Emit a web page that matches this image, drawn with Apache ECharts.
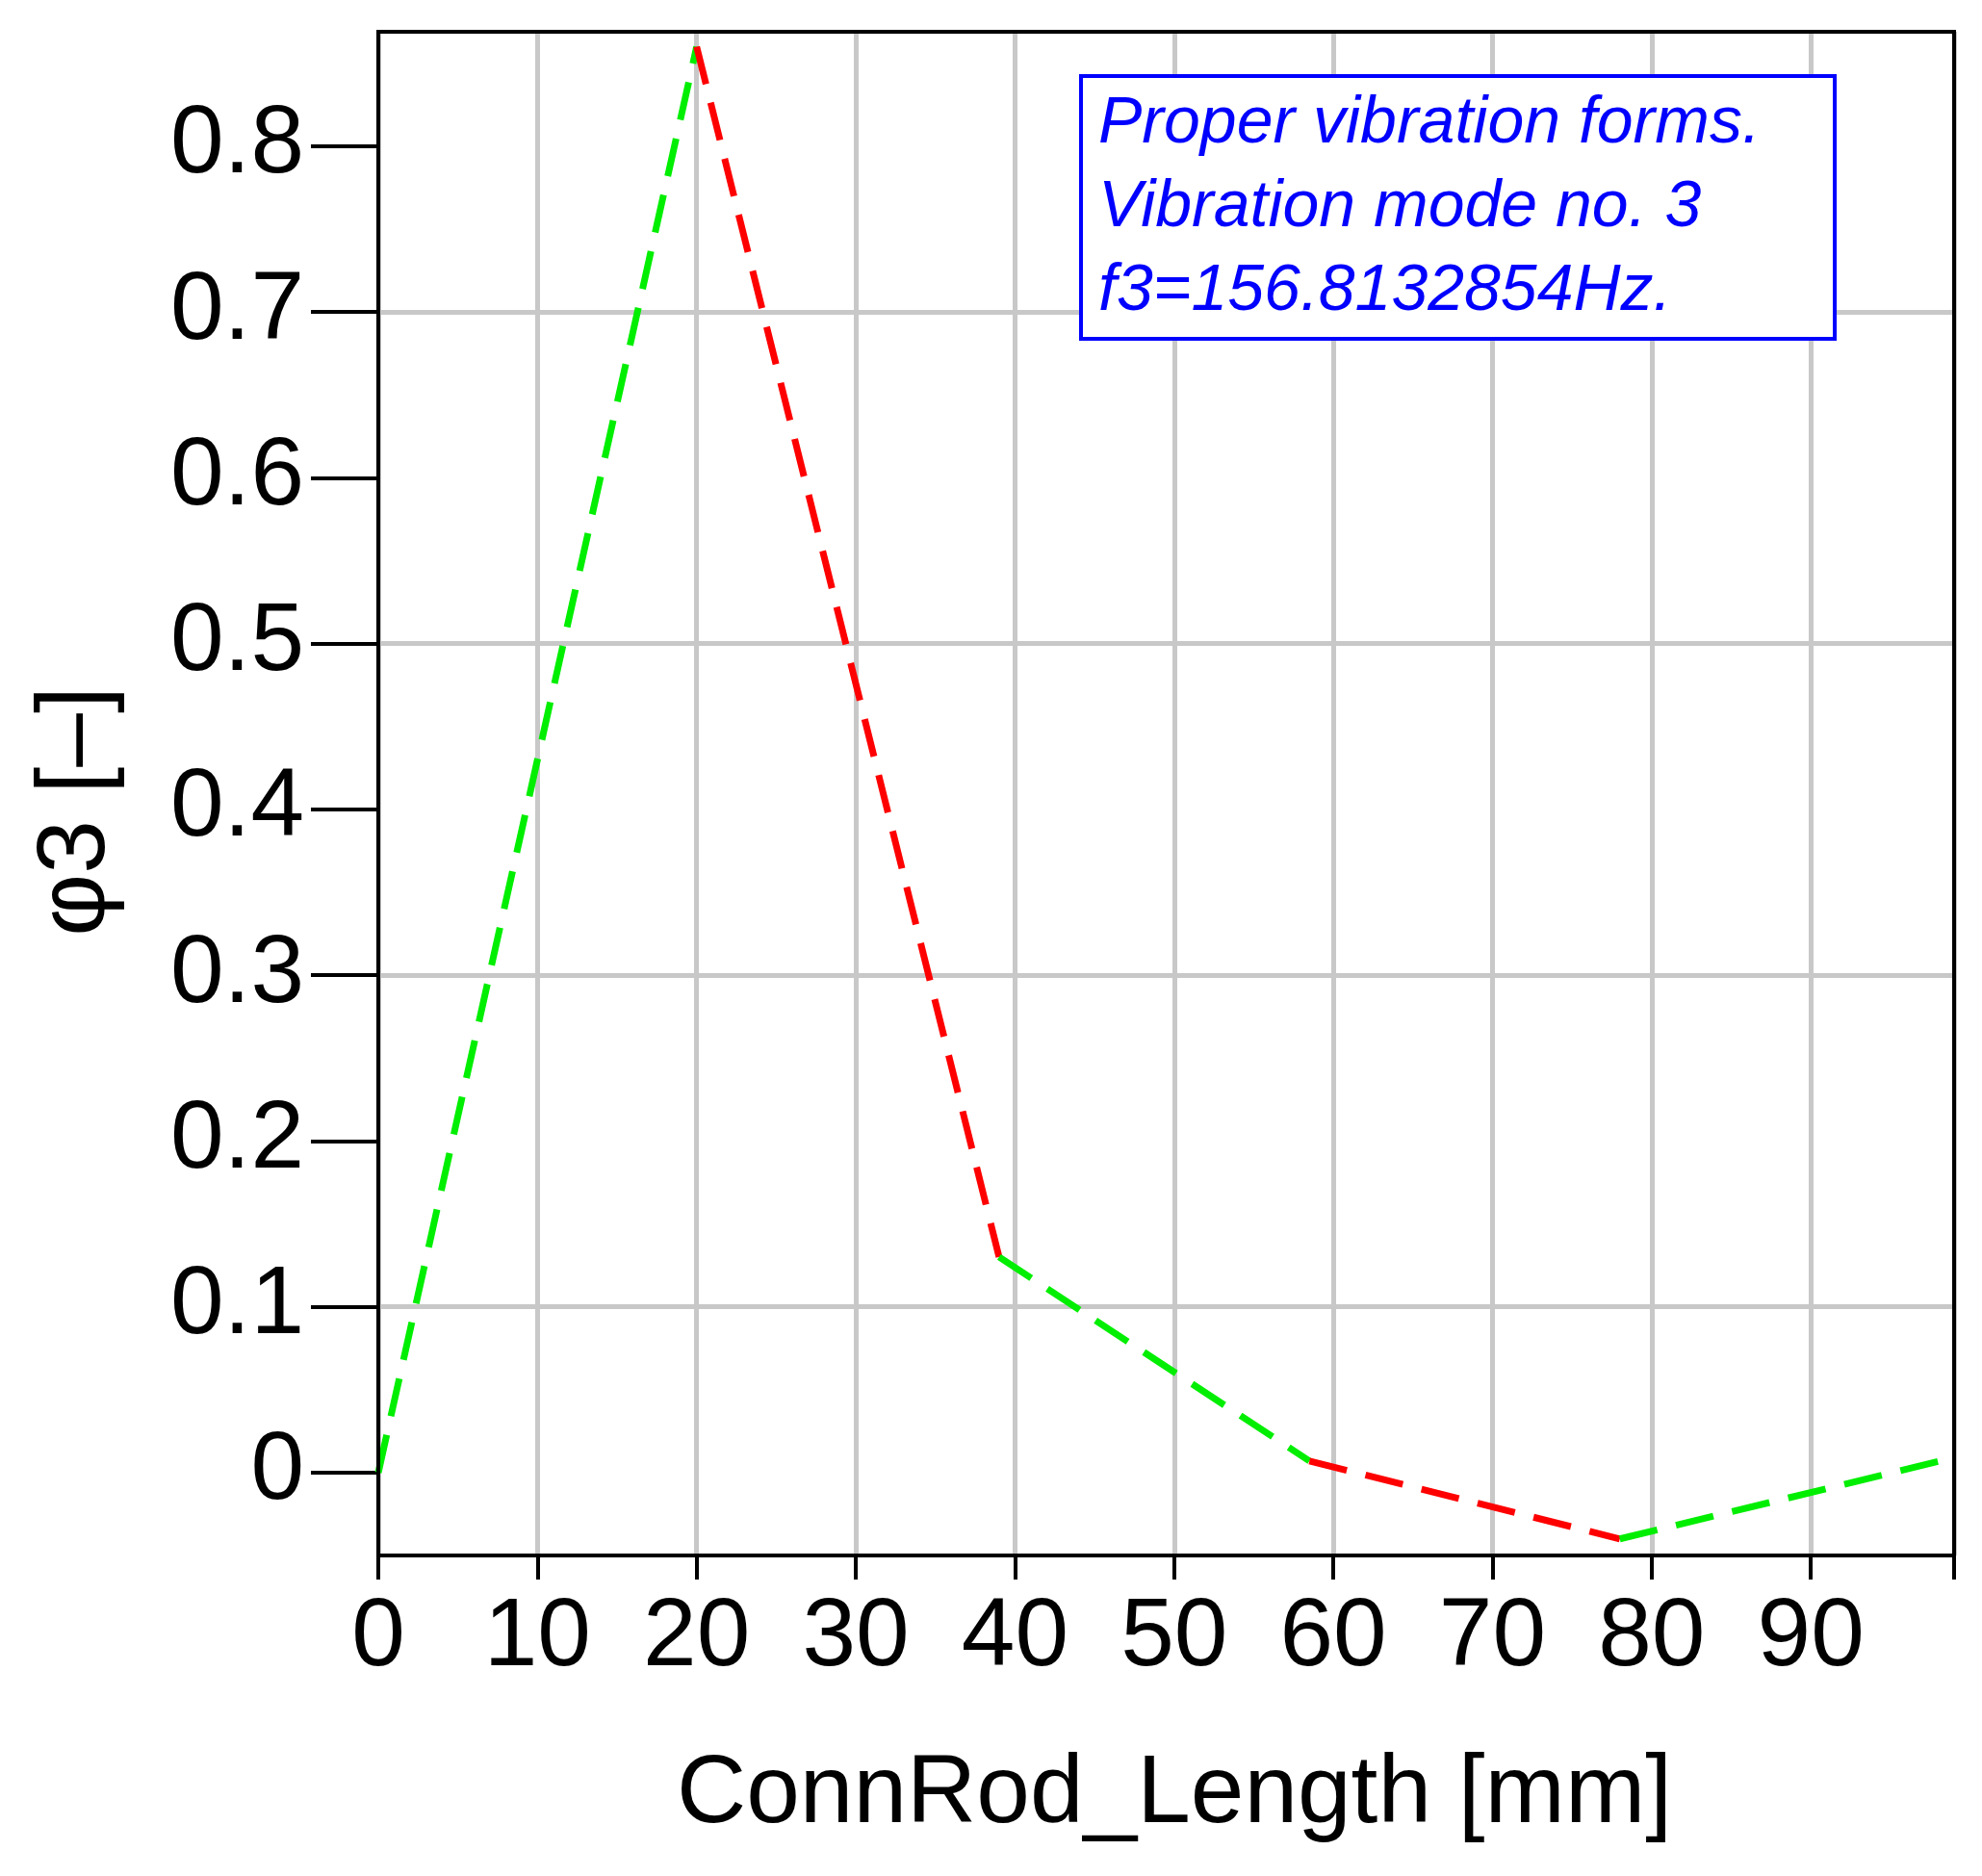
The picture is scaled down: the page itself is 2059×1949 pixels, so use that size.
<!DOCTYPE html>
<html><head><meta charset="utf-8">
<script src="https://cdn.jsdelivr.net/npm/echarts@6/dist/echarts.min.js"></script>
<style>html,body{margin:0;padding:0;background:#fff}#c{width:2059px;height:1949px}</style>
</head><body><div id="c"></div>
<script>
const xs = [0, 20, 39, 58.5, 78, 99];
const ys = [0, 0.86, 0.13, 0.007, -0.04, 0.009];
const segColors = ['#00ee00', '#ff0000', '#00ee00', '#ff0000', '#00ee00'];
const xTicks = [0,10,20,30,40,50,60,70,80,90];
const yTicks = [0,0.1,0.2,0.3,0.4,0.5,0.6,0.7,0.8];
const boxLines = ['Proper vibration forms.', 'Vibration mode no. 3', 'f3=156.8132854Hz.'];
const font = 'Liberation Sans, Arial, sans-serif';
const series = segColors.map((c, i) => ({
  type: 'line', symbol: 'none', animation: false,
  data: [[xs[i], ys[i]], [xs[i+1], ys[i+1]]],
  lineStyle: { color: c, width: 7, type: [40, 20] }
}));
const chart = echarts.init(document.getElementById('c'));
chart.setOption({
  backgroundColor: '#fff',
  grid: { left: 393, right: 29, top: 33, bottom: 333 },
  xAxis: { type: 'value', min: 0, max: 99, interval: 10,
    axisLine: { show: false, onZero: false }, axisTick: { show: true, length: 25, lineStyle: { color: '#000', width: 4 } },
    axisLabel: { fontSize: 100, color: '#000', fontFamily: font, margin: 36,
      formatter: v => xTicks.includes(v) ? String(v) : '' },
    splitLine: { lineStyle: { color: '#c8c8c8', width: 5 } } },
  yAxis: { type: 'value', min: -0.05, max: 0.869, interval: 0.05,
    axisLine: { show: false }, 
    axisTick: { show: true, length: 70, customValues: yTicks, lineStyle: { color: '#000', width: 4 } },
    axisLabel: { fontSize: 100, color: '#000', fontFamily: font, margin: 77, customValues: yTicks,
      formatter: v => v === 0 ? '0' : v.toFixed(1) },
    splitLine: { lineStyle: { color: ['rgba(0,0,0,0)', '#c8c8c8'], width: 5 } } },
  series: series,
  graphic: [
    { type: 'rect', z: 9, silent: true, shape: { x: 393, y: 33, width: 1637, height: 1583 }, style: { fill: 'none', stroke: '#000', lineWidth: 4 } },
    { type: 'text', x: 1220, y: 1865, style: { text: 'ConnRod_Length [mm]', font: '100px ' + font, fill: '#000', textAlign: 'center', textVerticalAlign: 'middle' } },
    { type: 'text', x: 80, y: 843, rotation: Math.PI/2, style: { text: 'φ3 [–]', font: '100px ' + font, fill: '#000', textAlign: 'center', textVerticalAlign: 'middle' } },
    { type: 'rect', shape: { x: 1123, y: 79, width: 783, height: 273 }, style: { fill: '#fff', stroke: '#0000ff', lineWidth: 4 }, z: 10 },
    ...boxLines.map((t, i) => ({ type: 'text', x: 1141, y: 129 + i*87, z: 11,
      style: { text: t, font: 'italic 68px ' + font, fill: '#0000ff', textVerticalAlign: 'middle' } }))
  ]
});
</script></body></html>
